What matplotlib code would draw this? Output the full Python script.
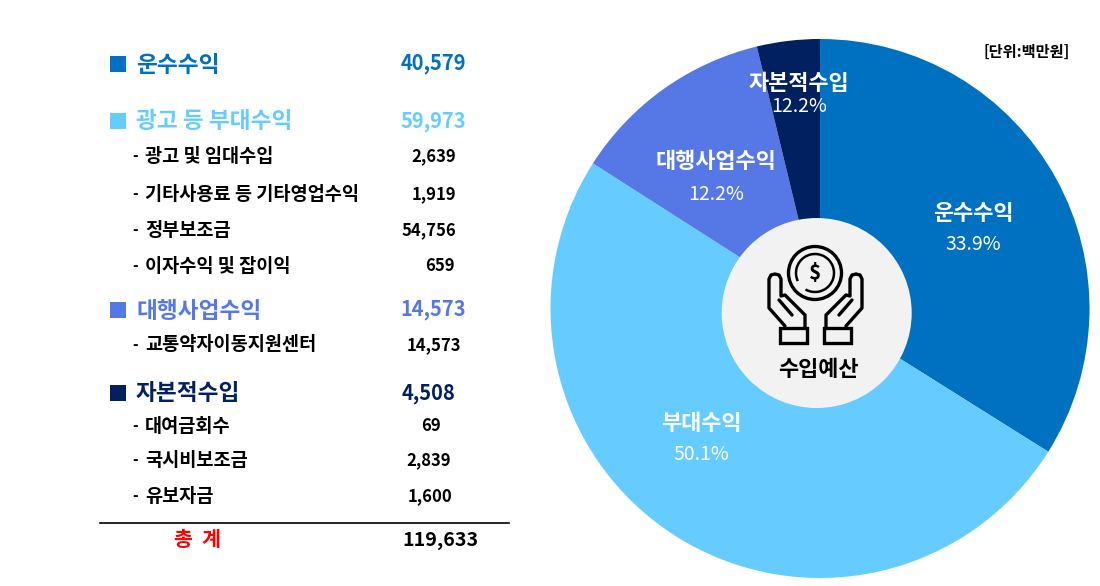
#!/usr/bin/env python
"""Revenue budget table on the left, pie on the right"""

import matplotlib
matplotlib.use('Agg')
import matplotlib.pyplot as plt
from matplotlib.patches import Circle, Rectangle, Arc

plt.rcParams['font.family'] = ['Noto Sans CJK KR', 'DejaVu Sans']

# Data ==================================
groups = ['운수수익', '광고 등 부대수익', '대행사업수익', '자본적수입']
group_values = ['40,579', '59,973', '14,573', '4,508']
group_colors = ['#0070C0', '#66CCFF', '#5578E6', '#002060']

items = ['광고 및 임대수입', '기타사용료 등 기타영업수익', '정부보조금', '이자수익 및 잡이익',
         '교통약자이동지원센터', '대여금회수', '국시비보조금', '유보자금']
item_values = ['2,639', '1,919', '54,756', '659', '14,573', '69', '2,839', '1,600']

pie_values = [40579, 59973, 14573, 4508]
pie_names = ['운수수익', '부대수익', '대행사업수익', '자본적수입']
pie_pcts = ['33.9%', '50.1%', '12.2%', '12.2%']

total_label = '총  계'
total_value = '119,633'
unit = '[단위:백만원]'
center_label = '수입예산'

# Layout, all in pixels of the 1100x586 image
W, H = 1100, 586
group_y = [65, 122, 311, 394]
group_val_x = [466, 466, 466, 455]
item_y = [157, 195, 231, 267, 346, 427, 461, 497]
item_val_x = [456, 456, 456, 455, 461, 441, 451, 452]
name_xy = [(973, 213), (701, 424), (716, 162), (799, 83)]
pct_xy = [(973, 245), (701, 455), (716, 194), (799, 107)]

fig = plt.figure(figsize=(W / 100, H / 100), dpi=100)

# Pie
cx, cy, r = 820, 308.5, 269.5
pax = fig.add_axes([(cx - r) / W, 1 - (cy + r) / H, 2 * r / W, 2 * r / H])
pax.pie(pie_values, colors=group_colors, startangle=90, counterclock=False, radius=1)
pax.set_xlim(-1, 1)
pax.set_ylim(-1, 1)

# Overlay in pixel coordinates
ax = fig.add_axes([0, 0, 1, 1])
ax.set_xlim(0, W)
ax.set_ylim(H, 0)
ax.axis('off')
ax.patch.set_alpha(0)

# Table groups
for name, val, col, y, vx in zip(groups, group_values, group_colors, group_y, group_val_x):
    ax.add_patch(Rectangle((110, y - 9), 16, 16, color=col, lw=0))
    ax.text(136, y, name, color=col, fontsize=16.3, va='center', ha='left', fontweight='bold')
    ax.text(vx, y - 1, val, color=col, fontsize=14.4, va='center', ha='right', fontweight='bold')

# Table items
for name, val, y, vx in zip(items, item_values, item_y, item_val_x):
    ax.text(132, y - 1, '-', color='black', fontsize=11, va='center', ha='left', fontweight='bold')
    ax.text(145, y - 1, name, color='black', fontsize=13.4, va='center', ha='left', fontweight='bold')
    ax.text(vx, y - 1, val, color='black', fontsize=12, va='center', ha='right', fontweight='bold')

# Total row
ax.plot([100, 509], [523, 523], color='black', lw=1.2)
ax.text(198, 540, total_label, color='#FF0000', fontsize=14.8, va='center', ha='center', fontweight='bold')
ax.text(478, 540, total_value, color='black', fontsize=14.2, va='center', ha='right', fontweight='bold')

ax.text(1070, 52, unit, color='black', fontsize=11, va='center', ha='right', fontweight='bold')

# Pie labels
for name, pct, nxy, pxy in zip(pie_names, pie_pcts, name_xy, pct_xy):
    ax.text(nxy[0], nxy[1], name, color='white', fontsize=15.8, va='center', ha='center', fontweight='bold')
    ax.text(pxy[0], pxy[1], pct, color='white', fontsize=14, va='center', ha='center', fontweight='light')

# Centre circle and icon
ax.add_patch(Circle((816.7, 313), 95, color='#F2F2F2', lw=0, zorder=3))
ax.add_patch(Circle((815, 273), 26.5, fill=False, ec='black', lw=2.4, zorder=4))
ax.add_patch(Arc((815, 273), 38, 38, theta1=-205, theta2=120, ec='black', lw=1.8, zorder=4))
ax.text(815, 273, '$', color='black', fontsize=15, va='center', ha='center', fontweight='bold', zorder=4)

# left hand, mirrored for the right one
outer = [(785, 326), (769, 308), (769, 279), (771, 275), (775, 274), (779, 275), (781, 279),
         (781, 296), (785, 295), (805, 315), (805, 328)]
inner = [(779, 300), (792, 315)]
for mirror in (False, True):
    for pts in (outer, inner):
        xs = [2 * 815.5 - p[0] if mirror else p[0] for p in pts]
        ys = [p[1] for p in pts]
        ax.plot(xs, ys, color='black', lw=2.4, solid_capstyle='round', solid_joinstyle='round', zorder=4)
    x0 = 2 * 815.5 - 807 if mirror else 780
    ax.add_patch(Rectangle((x0, 328), 27, 15, fill=False, ec='black', lw=2.4, zorder=4))

ax.text(818, 369, center_label, color='black', fontsize=15.8, va='center', ha='center', fontweight='bold', zorder=4)

fig.savefig('out.png', dpi=100)
plt.close()
